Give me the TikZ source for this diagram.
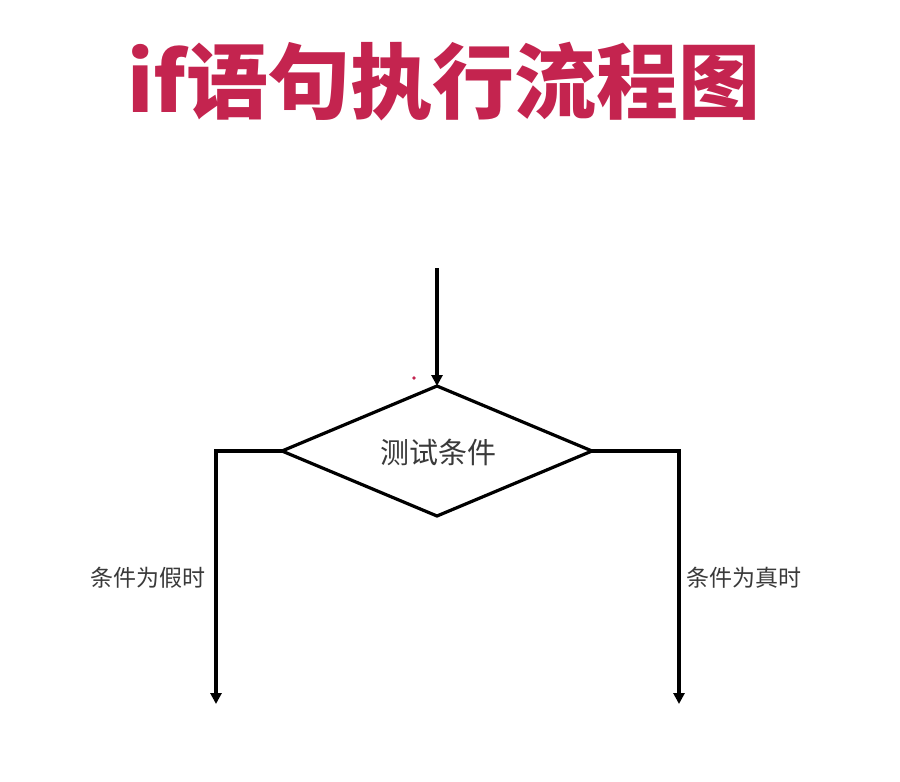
\documentclass[tikz,border=0pt]{standalone}
\usepackage{fontspec}
\newfontfamily\cjk{Noto Sans CJK SC}
\usetikzlibrary{arrows.meta}
\definecolor{titlered}{HTML}{C4244F}
\definecolor{txtgrey}{HTML}{3A3A3A}
\tikzset{
  flow/.style={line width=3.2pt, draw=black},
  arr/.style={flow, -{Triangle[length=11pt,width=11pt]}},
  lbl/.style={font=\cjk\fontsize{23}{26}\selectfont, text=txtgrey, inner sep=0pt},
}
\begin{document}
\begin{tikzpicture}[x=1pt,y=-1pt]
\useasboundingbox (0,0) rectangle (900,782);
\fill[white] (0,0) rectangle (900,782);
\node[font=\cjk\bfseries\fontsize{82}{90}\selectfont, text=titlered, inner sep=0pt] (title) at (444,82) {if语句执行流程图};
\coordinate (start) at (437,268);
\coordinate (top) at (437,386);
\coordinate (left) at (282,451);
\coordinate (bottom) at (437,516);
\coordinate (right) at (592,451);
\draw[flow, line join=miter] (top) -- (right) -- (bottom) -- (left) -- cycle;
\node[font=\cjk\fontsize{29}{32}\selectfont, text=txtgrey, inner sep=0pt] (cond) at (438,452) {测试条件};
\coordinate (lcorner) at (216,451);
\coordinate (lend) at (216,704);
\coordinate (rcorner) at (679,451);
\coordinate (rend) at (679,704);
\draw[arr] (start) -- (top);
\draw[arr] (left) -- (lcorner) -- (lend);
\draw[arr] (right) -- (rcorner) -- (rend);
\node[lbl] (falselbl) at (148,578) {条件为假时};
\node[lbl] (truelbl) at (744,578) {条件为真时};
\fill[titlered] (414,378) circle (1.8);
\end{tikzpicture}
\end{document}
